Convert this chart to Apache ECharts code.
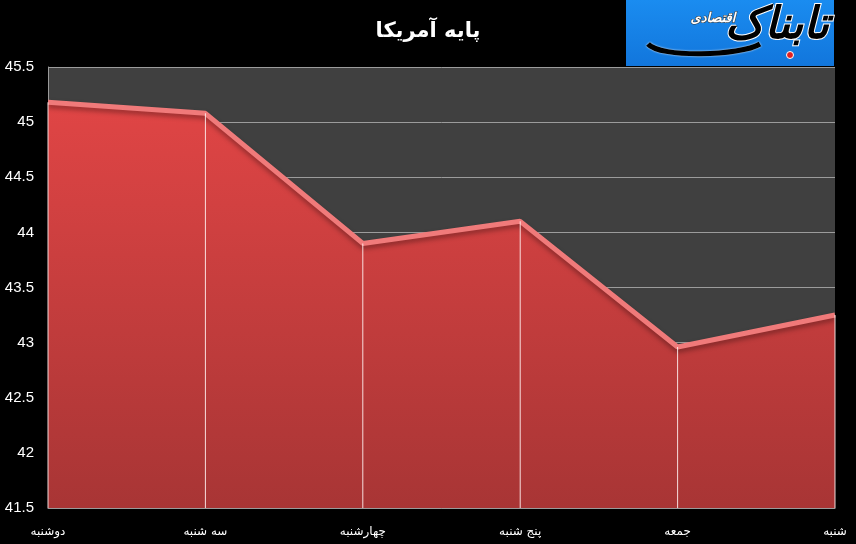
<!DOCTYPE html>
<html><head><meta charset="utf-8">
<script src="https://cdn.jsdelivr.net/npm/echarts@6/dist/echarts.min.js"></script>
<style>html,body{margin:0;padding:0;background:#000;}#c{width:856px;height:544px;}</style>
</head><body><div id="c"></div>
<script>
const categories = ['دوشنبه','سه شنبه','چهارشنبه','پنج شنبه','جمعه','شنبه'];
const values = [45.18, 45.08, 43.90, 44.10, 42.96, 43.25];
const yTicks = {min: 41.5, max: 45.5, interval: 0.5};
const titleText = 'پایه آمریکا';
const logoText = 'تابناک';
const logoSub = 'اقتصادی';

const chart = echarts.init(document.getElementById('c'));
chart.setOption({
  backgroundColor: '#000',
  animation: false,
  title: {text: titleText, left: 'center', top: 16, textStyle: {color: '#fff', fontSize: 21, fontWeight: 'bold', fontFamily: 'DejaVu Sans'}},
  grid: {left: 48, right: 21, top: 67, bottom: 36, show: true, backgroundColor: '#404040', borderWidth: 0},
  xAxis: {
    type: 'category', data: categories, boundaryGap: false,
    axisLine: {show: true, lineStyle: {color: '#9a9a9a', width: 1}},
    axisTick: {show: false},
    axisLabel: {color: '#fff', fontSize: 12, fontFamily: 'DejaVu Sans', margin: 18},
    splitLine: {show: false}
  },
  yAxis: {
    type: 'value', min: yTicks.min, max: yTicks.max, interval: yTicks.interval,
    axisLine: {show: true, lineStyle: {color: '#9a9a9a', width: 1}},
    axisTick: {show: false},
    axisLabel: {color: '#fff', fontSize: 15, fontFamily: 'Liberation Sans', margin: 14},
    splitLine: {show: true, lineStyle: {color: '#9c9c9c', width: 1}}
  },
  series: [
    {
      type: 'line', data: values, symbol: 'none', z: 3,
      lineStyle: {color: '#f07a7a', width: 5, shadowColor: 'rgba(0,0,0,0.35)', shadowBlur: 5, shadowOffsetY: 3},
      areaStyle: {opacity: 1, color: new echarts.graphic.LinearGradient(0,0,0,1,[{offset:0,color:'#e04545'},{offset:1,color:'#a83535'}])}
    },
    {
      type: 'bar', data: values, barWidth: 1, z: 4, silent: true,
      itemStyle: {color: 'rgba(255,240,240,0.9)'}
    }
  ],
  graphic: [
    {type: 'rect', left: 626, top: 0, shape: {width: 208, height: 66},
      style: {fill: new echarts.graphic.LinearGradient(0,0,0,1,[{offset:0,color:'#1a8cf0'},{offset:1,color:'#1276dc'}])}, z: 10},
    {type: 'bezierCurve', shape: {x1: 648, y1: 44, cpx1: 660, cpy1: 58, cpx2: 740, cpy2: 56, x2: 760, y2: 44},
      style: {stroke: '#000', lineWidth: 5, fill: null, shadowColor: '#fff', shadowBlur: 2}, z: 11},
    {type: 'text', right: 26, top: 4, style: {text: logoText, fill: '#000', stroke: '#fff', lineWidth: 2, font: 'bold italic 44px "DejaVu Sans"'}, z: 11},
    {type: 'text', left: 690, top: 12, style: {text: logoSub, fill: '#fff', stroke: '#333', lineWidth: 1, font: 'italic bold 13px "DejaVu Sans"'}, z: 12},
    {type: 'circle', shape: {cx: 790, cy: 55, r: 3.5}, style: {fill: '#e02020', stroke: '#fff', lineWidth: 1}, z: 12}
  ]
});
</script></body></html>
